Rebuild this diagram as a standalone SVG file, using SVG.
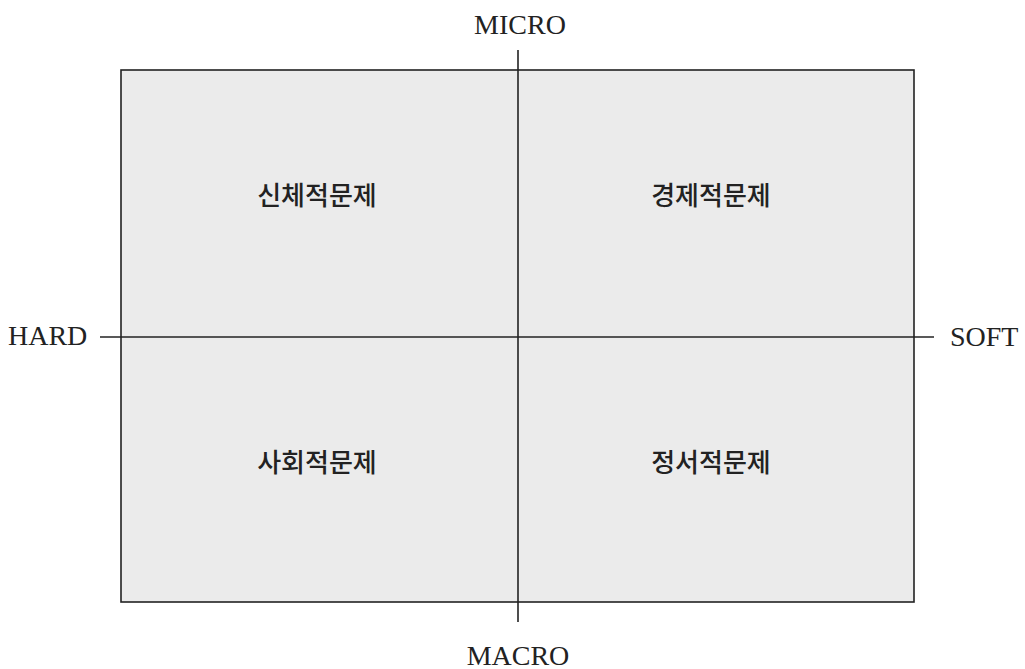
<svg xmlns="http://www.w3.org/2000/svg" width="1025" height="669" viewBox="0 0 1025 669">
<style>
.axis{font-family:"Liberation Serif","DejaVu Serif",serif;font-size:28px;fill:#222}
.q{font-family:"Noto Sans CJK KR","Noto Sans",sans-serif;font-size:26px;font-weight:500;fill:#222;text-anchor:middle}
.ln{stroke:#222;stroke-width:1.6;fill:none}
</style>
<rect width="1025" height="669" fill="#ffffff"/>
<g id="box"><rect x="121" y="70" width="793" height="532" fill="#ebebeb" stroke="#222" stroke-width="1.6"/></g>
<g id="connectors">
<line class="ln" x1="518" y1="50" x2="518" y2="622"/>
<line class="ln" x1="100" y1="337" x2="934" y2="337"/>
</g>
<g id="micro"><text class="axis" x="520" y="34" text-anchor="middle">MICRO</text></g>
<g id="macro"><text class="axis" x="518" y="665" text-anchor="middle">MACRO</text></g>
<g id="hard"><text class="axis" x="8" y="345">HARD</text></g>
<g id="soft"><text class="axis" x="950" y="346">SOFT</text></g>
<g id="q1"><text class="q" x="317" y="205">신체적문제</text></g>
<g id="q2"><text class="q" x="711" y="205">경제적문제</text></g>
<g id="q3"><text class="q" x="317" y="472">사회적문제</text></g>
<g id="q4"><text class="q" x="711" y="472">정서적문제</text></g>
</svg>
